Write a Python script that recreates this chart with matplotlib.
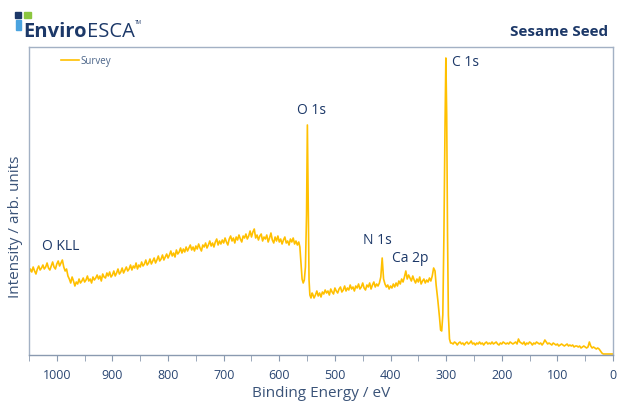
import numpy as np
import matplotlib
matplotlib.use("Agg")
import matplotlib.pyplot as plt
from matplotlib.patches import Rectangle

plt.rcParams['font.family'] = ['Open Sans', 'DejaVu Sans']

# survey spectrum (binding energy in eV, intensity in arb. units)
be_high = np.arange(1050, 569, -2.5)
int_high = [82, 86, 83, 88, 84, 81, 86, 89, 85, 87,
            90, 86, 88, 92, 87, 85, 89, 93, 88, 86,
            91, 94, 89, 92, 95, 88, 84, 86, 79, 76,
            72, 78, 74, 69, 73, 71, 76, 72, 74, 77,
            73, 75, 79, 74, 76, 72, 78, 75, 77, 80,
            76, 79, 74, 81, 78, 77, 82, 79, 83, 78,
            80, 84, 79, 82, 86, 81, 83, 87, 82, 85,
            88, 84, 86, 90, 85, 89, 87, 92, 86, 90,
            88, 93, 89, 91, 95, 90, 92, 96, 91, 94,
            97, 92, 95, 99, 94, 96, 100, 95, 98, 101,
            97, 100, 104, 99, 102, 98, 105, 101, 103, 107,
            102, 106, 103, 108, 104, 107, 110, 105, 108, 104,
            109, 106, 111, 107, 104, 110, 108, 112, 107, 110,
            114, 109, 112, 108, 113, 116, 110, 114, 111, 115,
            112, 117, 113, 110, 116, 119, 114, 117, 112, 118,
            115, 120, 116, 113, 119, 117, 121, 116, 119, 124,
            118, 123, 126, 117, 120, 115, 119, 121, 114, 118,
            116, 120, 113, 117, 122, 115, 112, 118, 114, 119,
            113, 116, 111, 115, 118, 112, 114, 110, 116, 113,
            117, 111, 114]

be_o1s = [567.5, 565, 563, 561, 559, 557, 555, 553, 551, 549.5, 548, 546.5, 545, 543, 541]
int_o1s = [110, 113, 108, 92, 76, 72, 75, 88, 140, 230, 150, 75, 60, 57, 62]

be_mid = np.arange(540, 322, -2.5)
int_mid = [61, 57, 60, 64, 59, 62, 58, 63, 61, 65,
           62, 64, 60, 66, 63, 61, 67, 64, 62, 66,
           68, 63, 65, 69, 64, 67, 65, 70, 66, 68,
           64, 69, 67, 71, 66, 68, 72, 67, 65, 70,
           68, 72, 66, 70, 73, 68, 71, 69, 72, 78,
           97, 76, 71, 68, 70, 66, 69, 67, 71, 68,
           72, 69, 74, 71, 76, 73, 78, 84, 76, 80,
           77, 74, 79, 75, 72, 76, 73, 78, 71, 74,
           76, 72, 75, 73, 77, 74, 79, 87]

be_c1s = [320, 318, 315, 312, 310, 308, 306, 304, 302, 300.5, 299, 297.5, 296, 294, 292]
int_c1s = [84, 70, 55, 38, 25, 24, 40, 120, 230, 297, 240, 120, 40, 16, 12]

be_low = np.concatenate([np.arange(290, 21, -2.5), [20, 17.5, 15, 10, 5, 0]])
int_low = [12, 11, 13, 12, 10, 12, 13, 11, 12, 10,
           12, 13, 11, 12, 14, 11, 12, 10, 12, 11,
           13, 11, 12, 10, 12, 13, 11, 12, 11, 13,
           11, 12, 13, 11, 10, 12, 11, 13, 12, 11,
           12, 11, 13, 12, 11, 12, 13, 11, 16, 13,
           12, 11, 13, 10, 12, 11, 13, 12, 10, 12,
           11, 13, 12, 11, 12, 10, 12, 15, 13, 11,
           12, 11, 10, 12, 11, 10, 11, 9, 10, 11,
           10, 9, 10, 11, 9, 10, 9, 10, 8, 9,
           9, 8, 9, 7, 8, 9, 8, 7, 8, 13,
           9, 7, 8, 7, 6, 7, 6, 4,
           2, 1, 1, 1, 1, 1]

peak_labels = ["O 1s", "C 1s", "N 1s", "Ca 2p", "O KLL"]
label_be = [568, 290, 450, 397, 1027]
label_int = [244, 293, 115, 96, 109]

be = np.concatenate([be_high, be_o1s, be_mid, be_c1s, be_low])
intensity = np.concatenate([int_high, int_o1s, int_mid, int_c1s, int_low])

navy = "#1c3868"
frame = "#a3b1c4"

fig = plt.figure(figsize=(6.18, 4.01), dpi=100)
ax = fig.add_axes([29/618, 46/401, 584/618, 308/401])
ax.plot(be, intensity, color="#FFC000", lw=1.2, label="Survey")
ax.set_xlim(1050, 0)
ax.set_ylim(0, 308)
ax.set_xticks(np.arange(1000, -1, -100))
ax.set_xticks(np.arange(1050, -1, -50), minor=True)
ax.set_yticks([])
ax.tick_params(axis="x", which="major", length=4, color="#8a9ab0", labelsize=9,
               labelcolor="#2b4773", pad=6)
ax.tick_params(axis="x", which="minor", length=4, color="#8a9ab0")
for s in ax.spines.values():
    s.set_color(frame)
    s.set_linewidth(1.0)
ax.spines["bottom"].set_color("#8a9ab0")
ax.set_xlabel("Binding Energy / eV", fontsize=11, color="#3a5378", labelpad=3)
ax.set_ylabel("Intensity / arb. units", fontsize=11, color="#3a5378")
ax.yaxis.set_label_coords(-0.011, 0.415)

for t, x, y in zip(peak_labels, label_be, label_int):
    ax.text(x, y, t, fontsize=10, color=navy, ha="left", va="center")

leg = ax.legend(loc="upper left", bbox_to_anchor=(0.04, 1.0), frameon=False,
                fontsize=7, handlelength=1.8, handletextpad=0.15)
for t in leg.get_texts():
    t.set_color("#4a6488")

# header: logo and sample name
def square(x0, y0, w, h, c):
    fig.patches.append(Rectangle((x0/618, 1 - (y0 + h)/401), w/618, h/401,
                                 transform=fig.transFigure, color=c))

square(15, 12, 6, 6, "#1c3868")
square(24, 12, 7, 6, "#8cc63f")
square(16, 20, 5, 10, "#4aa3df")

t1 = fig.text(23/618, 1 - 37/401, "Enviro", fontsize=14.5, fontweight="bold", color=navy,
              ha="left", va="baseline")
fig.canvas.draw()
bb = t1.get_window_extent()
x_esca = bb.x1 / fig.bbox.width + 0.5/618
t2 = fig.text(x_esca, 1 - 37/401, "ESCA", fontsize=14.5, color=navy, ha="left", va="baseline")
fig.canvas.draw()
bb2 = t2.get_window_extent()
fig.text(bb2.x1 / fig.bbox.width + 0.5/618, 1 - 24/401, "TM", fontsize=3.5, color=navy,
         ha="left", va="baseline")
fig.text(608/618, 1 - 32/401, "Sesame Seed", fontsize=11, fontweight="bold", color=navy,
         ha="right", va="center")

fig.savefig("out.png", dpi=100)
